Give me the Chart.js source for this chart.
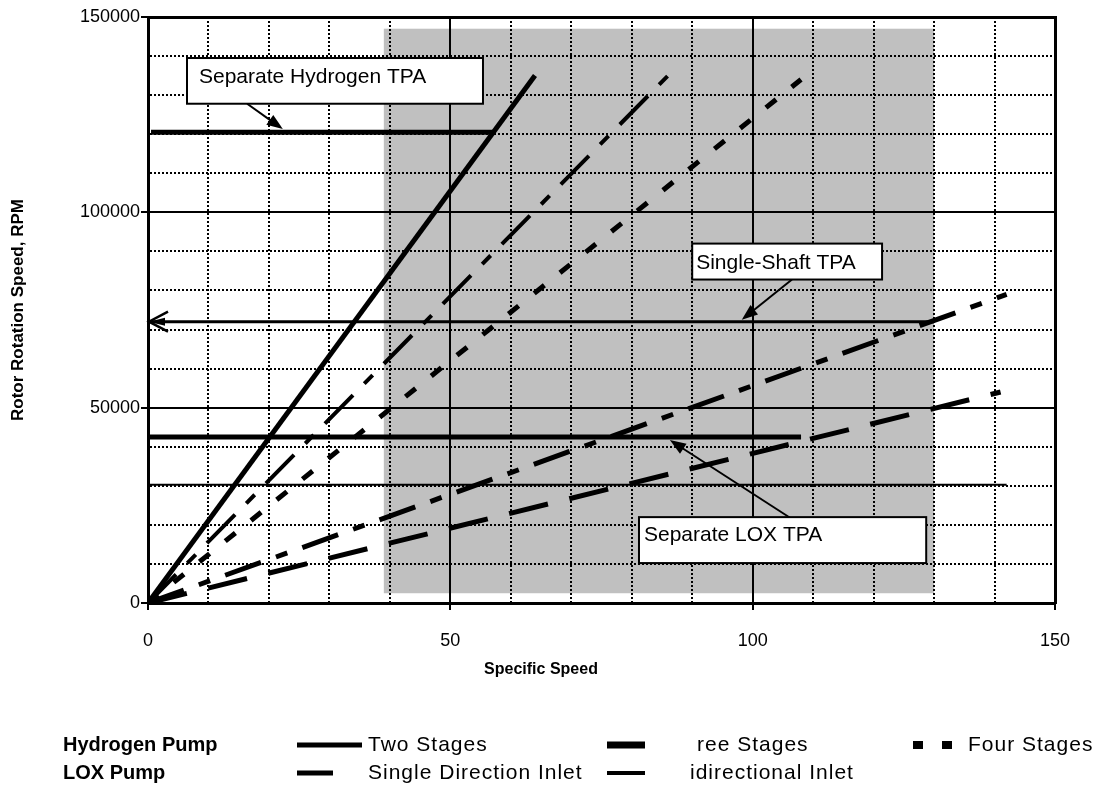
<!DOCTYPE html>
<html>
<head>
<meta charset="utf-8">
<script src="https://cdn.jsdelivr.net/npm/chart.js@4.4.0/dist/chart.umd.min.js"></script>
<style>
  html, body { margin: 0; padding: 0; background: #fff; }
  #wrap { width: 1107px; height: 785px; position: relative; }
</style>
</head>
<body>
<div id="wrap"><canvas id="chart"></canvas></div>
<script>
// specific speed (x) and rotor rotation speed, rpm (y) for each pump curve
const twoStagesNs = [0, 64];
const twoStagesRpm = [0, 135000];
const threeStagesNs = [0, 86];
const threeStagesRpm = [0, 135000];
const fourStagesNs = [0, 108];
const fourStagesRpm = [0, 134000];
const singleInletNs = [0, 141];
const singleInletRpm = [0, 54000];
const biInletNs = [0, 142];
const biInletRpm = [0, 79000];

// turbopump speed levels
const tpaLabels = ['Separate Hydrogen TPA', 'Single-Shaft TPA', 'Separate LOX TPA'];
const tpaRpm = [120500, 72000, 42500];
const tpaNsStart = [0.5, 0, 0];
const tpaNsEnd = [57, 130, 108];
const lowLineRpm = 30300;
const lowLineNsEnd = 142;

// shaded design region
const shadeNs = [39, 130];
const shadeRpm = [2500, 147000];

const xTicks = [0, 50, 100, 150];
const yTicks = [0, 50000, 100000, 150000];

const legendRows = ['Hydrogen Pump', 'LOX Pump'];
const hydrogenLegend = ['Two Stages', 'ree Stages', 'Four Stages'];
const loxLegend = ['Single Direction Inlet', 'idirectional Inlet'];

const FONT = "'Liberation Sans', Arial, sans-serif";

function pts(xs, ys) {
    return xs.map((x, i) => ({x: x, y: ys[i]}));
}

function curve(label, xs, ys, width, dash) {
    return {
        label: label,
        data: pts(xs, ys),
        showLine: true,
        borderColor: '#000',
        borderWidth: width,
        borderDash: dash,
        borderCapStyle: 'butt',
        pointRadius: 0,
        fill: false
    };
}

const datasets = [
    curve('Two Stages', twoStagesNs, twoStagesRpm, 5, []),
    curve('Three Stages', threeStagesNs, threeStagesRpm, 4, [40, 16, 12, 16]),
    curve('Four Stages', fourStagesNs, fourStagesRpm, 5, [13, 20]),
    curve('Single Direction Inlet', singleInletNs, singleInletRpm, 5, [40, 22]),
    curve('Bidirectional Inlet', biInletNs, biInletRpm, 5, [38, 16, 12, 16])
];
const tpaWidths = [5, 3, 5];
tpaLabels.forEach((name, i) => {
    datasets.push(curve(name, [tpaNsStart[i], tpaNsEnd[i]], [tpaRpm[i], tpaRpm[i]], tpaWidths[i], []));
});
datasets.push(curve('low limit', [0, lowLineNsEnd], [lowLineRpm, lowLineRpm], 2, []));

// annotation boxes in data units, arrows from box edge to the speed line
const notes = [
    {text: tpaLabels[0], x0: 6.45, x1: 55.4, y0: 139500, y1: 127800, tx: 12, ty: 25, from: [16.4, 127800], to: [22.3, 121300]},
    {text: tpaLabels[1], x0: 90, x1: 121.4, y0: 92000, y1: 82800, tx: 4, ty: 25, from: [106.5, 82800], to: [98.2, 72500]},
    {text: tpaLabels[2], x0: 81.2, x1: 128.7, y0: 21980, y1: 10220, tx: 5, ty: 24, from: [106.5, 21500], to: [86.3, 41700]}
];

function head(ctx, x, y, ang, len, half) {
    ctx.beginPath();
    ctx.moveTo(x, y);
    ctx.lineTo(x - len * Math.cos(ang) + half * Math.sin(ang), y - len * Math.sin(ang) - half * Math.cos(ang));
    ctx.lineTo(x - len * Math.cos(ang) - half * Math.sin(ang), y - len * Math.sin(ang) + half * Math.cos(ang));
    ctx.closePath();
    ctx.fill();
}

const drawExtras = {
    id: 'drawExtras',
    beforeDraw(chart) {
        const ctx = chart.ctx, sx = chart.scales.x, sy = chart.scales.y;
        const l = sx.getPixelForValue(shadeNs[0]), r = sx.getPixelForValue(shadeNs[1]);
        const t = sy.getPixelForValue(shadeRpm[1]), b = sy.getPixelForValue(shadeRpm[0]);
        ctx.save();
        ctx.fillStyle = '#c0c0c0';
        ctx.fillRect(l, t, r - l, b - t);
        ctx.restore();
    },
    afterDraw(chart) {
        const ctx = chart.ctx, sx = chart.scales.x, sy = chart.scales.y;
        ctx.save();
        ctx.strokeStyle = '#000';
        ctx.fillStyle = '#000';

        // arrows
        notes.forEach(n => {
            const x1 = sx.getPixelForValue(n.from[0]), y1 = sy.getPixelForValue(n.from[1]);
            const x2 = sx.getPixelForValue(n.to[0]), y2 = sy.getPixelForValue(n.to[1]);
            const ang = Math.atan2(y2 - y1, x2 - x1);
            ctx.lineWidth = 2;
            ctx.beginPath();
            ctx.moveTo(x1, y1);
            ctx.lineTo(x2 - 10 * Math.cos(ang), y2 - 10 * Math.sin(ang));
            ctx.stroke();
            head(ctx, x2, y2, ang, 16, 6);
        });

        // left-pointing arrow at the start of the single-shaft line
        const ax = sx.getPixelForValue(0) + 1, ay = sy.getPixelForValue(tpaRpm[1]);
        ctx.lineWidth = 2.5;
        ctx.beginPath();
        ctx.moveTo(ax + 19, ay - 10);
        ctx.lineTo(ax, ay);
        ctx.lineTo(ax + 19, ay + 10);
        ctx.stroke();
        head(ctx, ax, ay, Math.PI, 16, 4);

        // boxes
        ctx.font = '21px ' + FONT;
        ctx.textBaseline = 'alphabetic';
        ctx.textAlign = 'left';
        notes.forEach(n => {
            const l = sx.getPixelForValue(n.x0), r = sx.getPixelForValue(n.x1);
            const t = sy.getPixelForValue(n.y0), b = sy.getPixelForValue(n.y1);
            ctx.fillStyle = '#fff';
            ctx.fillRect(l, t, r - l, b - t);
            ctx.lineWidth = 2;
            ctx.strokeRect(l, t, r - l, b - t);
            ctx.fillStyle = '#000';
            ctx.fillText(n.text, l + n.tx, t + n.ty);
        });

        // x axis title
        ctx.font = 'bold 16px ' + FONT;
        ctx.textAlign = 'center';
        ctx.textBaseline = 'middle';
        ctx.fillText('Specific Speed', 541, 670);

        // legend
        const rowY = [745, 773];
        ctx.textAlign = 'left';
        ctx.font = 'bold 20px ' + FONT;
        legendRows.forEach((t, i) => ctx.fillText(t, 63, rowY[i]));

        ctx.font = '21px ' + FONT;
        ctx.letterSpacing = '1px';
        ctx.lineCap = 'butt';
        // hydrogen row
        ctx.lineWidth = 5;
        ctx.beginPath(); ctx.moveTo(297, rowY[0]); ctx.lineTo(362, rowY[0]); ctx.stroke();
        ctx.fillText(hydrogenLegend[0], 368, rowY[0]);
        ctx.lineWidth = 7;
        ctx.beginPath(); ctx.moveTo(607, rowY[0]); ctx.lineTo(645, rowY[0]); ctx.stroke();
        ctx.fillText(hydrogenLegend[1], 697, rowY[0]);
        ctx.fillRect(913, rowY[0] - 4, 10, 8);
        ctx.fillRect(942, rowY[0] - 4, 10, 8);
        ctx.fillText(hydrogenLegend[2], 968, rowY[0]);
        // lox row
        ctx.lineWidth = 5;
        ctx.beginPath(); ctx.moveTo(297, rowY[1]); ctx.lineTo(333, rowY[1]); ctx.stroke();
        ctx.fillText(loxLegend[0], 368, rowY[1]);
        ctx.lineWidth = 4;
        ctx.beginPath(); ctx.moveTo(607, rowY[1]); ctx.lineTo(645, rowY[1]); ctx.stroke();
        ctx.fillText(loxLegend[1], 690, rowY[1]);
        ctx.restore();
    }
};

const tickFont = {family: FONT, size: 18};
const clear = 'rgba(0,0,0,0)';

new Chart(document.getElementById('chart'), {
    type: 'scatter',
    data: {datasets: datasets},
    options: {
        responsive: true,
        maintainAspectRatio: false,
        animation: false,
        events: [],
        layout: {padding: {top: 17, right: 52, left: 0, bottom: 0}},
        plugins: {legend: {display: false}, tooltip: {enabled: false}},
        scales: {
            x: {
                type: 'linear', min: 0, max: 150,
                ticks: {
                    stepSize: 10, autoSkip: false, maxRotation: 0, color: '#000', font: tickFont, padding: 20,
                    callback: v => xTicks.includes(v) ? String(v) : ''
                },
                grid: {
                    color: '#000', lineWidth: 2, tickLength: 7, tickWidth: 2,
                    tickColor: c => (c.tick && xTicks.includes(c.tick.value)) ? '#000' : clear
                },
                border: {display: true, color: '#000', width: 3, dash: [2, 2]},
                afterFit: s => { s.height = 182; }
            },
            y: {
                type: 'linear', min: 0, max: 150000,
                ticks: {
                    stepSize: 10000, autoSkip: false, color: '#000', font: tickFont, padding: 1,
                    callback: v => yTicks.includes(v) ? String(v) : ''
                },
                grid: {
                    color: '#000', lineWidth: 2, tickLength: 7, tickWidth: 2,
                    tickColor: c => (c.tick && yTicks.includes(c.tick.value)) ? '#000' : clear
                },
                border: {display: true, color: '#000', width: 3, dash: [2, 2]},
                title: {
                    display: true, text: 'Rotor Rotation Speed, RPM', color: '#000',
                    font: {family: FONT, size: 17, weight: 'bold'}, padding: {top: 8, bottom: 0}
                },
                afterFit: s => { s.width = 148; }
            },
            x2: {
                type: 'linear', position: 'top', min: 0, max: 150,
                ticks: {display: false, stepSize: 50},
                grid: {color: '#000', lineWidth: 2, drawTicks: false},
                border: {display: true, color: '#000', width: 3},
                afterFit: s => { s.height = 0; }
            },
            y2: {
                type: 'linear', position: 'right', min: 0, max: 150000,
                ticks: {display: false, stepSize: 50000},
                grid: {color: '#000', lineWidth: 2, drawTicks: false},
                border: {display: true, color: '#000', width: 3},
                afterFit: s => { s.width = 0; }
            }
        }
    },
    plugins: [drawExtras]
});
</script>
</body>
</html>
